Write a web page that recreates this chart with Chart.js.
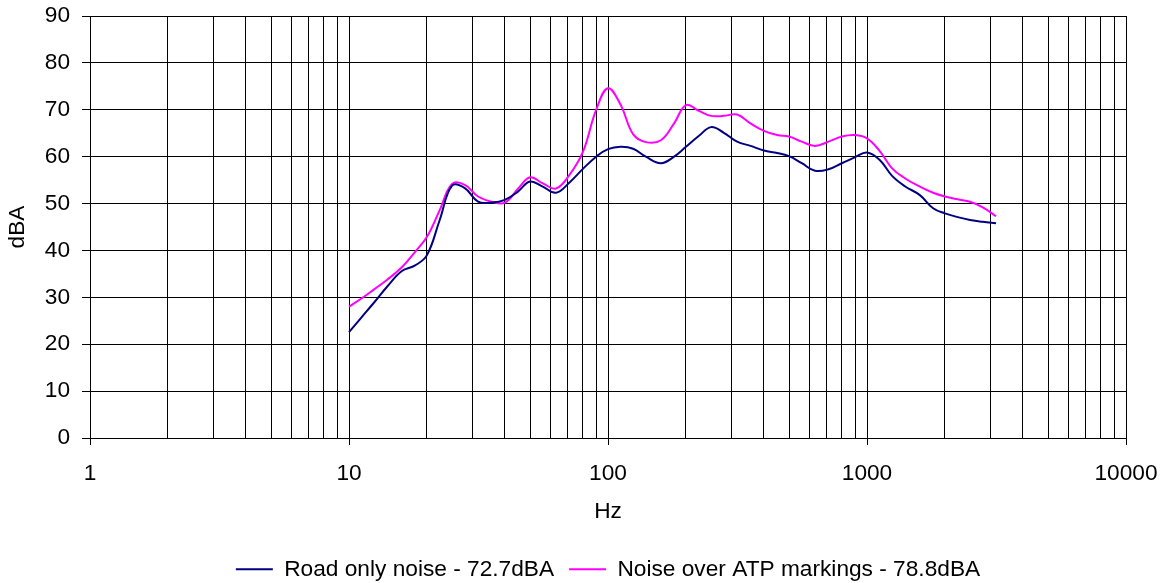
<!DOCTYPE html>
<html lang="en">
<head>
  <meta charset="UTF-8" />
  <title>Road noise spectrum</title>
  <script src="https://cdn.jsdelivr.net/npm/chart.js"></script>
  <style>
    html, body { margin: 0; padding: 0; background: #fff; }
    canvas { display: block; }
  </style>
</head>
<body>
<canvas id="noiseChart" width="1167" height="583"></canvas>

<script>
  // 1/6-octave band centres (Hz)
  const freqs = [10, 11.2, 12.5, 14, 16, 18, 20, 22.4, 25, 28, 31.5, 35.5, 40, 45, 50, 56, 63, 71, 80, 90,
    100, 112, 125, 140, 160, 180, 200, 224, 250, 280, 315, 355, 400, 450, 500, 560, 630, 710, 800, 900,
    1000, 1120, 1250, 1400, 1600, 1800, 2000, 2240, 2500, 2800, 3150];

  const roadOnly = [22.6, 25.8, 28.9, 32.2, 35.6, 36.8, 39, 46.5, 53.8, 53.3, 50.4, 50.2, 50.8, 52.6, 54.7, 53.6, 52.3, 54.5, 57.4, 60,
    61.6, 62.1, 61.7, 60, 58.6, 60, 62.1, 64.4, 66.3, 65.1, 63.2, 62.3, 61.3, 60.8, 60.1, 58.6, 57, 57.3, 58.6, 59.9,
    60.9, 59.3, 55.9, 53.7, 51.8, 49, 47.9, 47.1, 46.5, 46.1, 45.8];

  const overAtp = [28, 29.8, 31.7, 33.7, 36.4, 39.7, 42.9, 48.6, 54.2, 54, 51.5, 50.4, 50.2, 53.2, 55.6, 54.3, 53.2, 56.1, 61, 70,
    74.6, 71, 64.8, 63.1, 63.5, 67.1, 71, 69.8, 68.7, 68.7, 69, 67.1, 65.5, 64.6, 64.3, 63.2, 62.3, 63.2, 64.3, 64.6,
    63.9, 61.2, 57.5, 55.4, 53.6, 52.3, 51.5, 50.9, 50.4, 49.2, 47.3];

  const seriesNames = ["Road only noise - 72.7dBA", "Noise over ATP markings - 78.8dBA"];
  const decades = [1, 10, 100, 1000, 10000];

  Chart.defaults.font.family = '"Liberation Sans", Arial, sans-serif';
  Chart.defaults.font.size = 22.7;
  Chart.defaults.color = "#000";

  const toPoints = vals => freqs.map((f, i) => ({ x: f, y: vals[i] }));

  const ctx = document.getElementById("noiseChart").getContext("2d");
  new Chart(ctx, {
    type: "line",
    data: {
      datasets: [
        { label: seriesNames[0], data: toPoints(roadOnly), borderColor: "#000080", backgroundColor: "#000080",
          borderWidth: 2, pointRadius: 0, pointStyle: "line", tension: 0.4 },
        { label: seriesNames[1], data: toPoints(overAtp), borderColor: "#ff00ff", backgroundColor: "#ff00ff",
          borderWidth: 2, pointRadius: 0, pointStyle: "line", tension: 0.4 }
      ]
    },
    options: {
      responsive: false,
      animation: false,
      layout: { padding: { top: 16, right: 41, left: 0, bottom: 0 } },
      plugins: {
        tooltip: { enabled: false },
        legend: {
          position: "bottom",
          fullSize: false,
          maxHeight: 40,
          labels: { usePointStyle: true, pointStyle: "line", pointStyleWidth: 37, padding: 15, color: "#000" }
        }
      },
      scales: {
        x: {
          type: "logarithmic",
          min: 1,
          max: 10000,
          afterBuildTicks: scale => {
            const t = [];
            decades.slice(0, -1).forEach(d => { for (let m = 1; m < 10; m++) t.push({ value: m * d }); });
            t.push({ value: decades[decades.length - 1] });
            scale.ticks = t;
          },
          afterFit: scale => {
            scale.height = 105;
            scale.paddingLeft = 0;
            scale.paddingRight = 0;
          },
          ticks: {
            autoSkip: false, maxRotation: 0, padding: 15,
            callback: v => decades.includes(v) ? String(v) : ""
          },
          grid: {
            color: "#000", lineWidth: 1, tickLength: 7,
            tickColor: c => (c.tick && decades.includes(c.tick.value)) ? "#000" : "rgba(0,0,0,0)"
          },
          border: { color: "#000" },
          title: { display: true, text: "Hz", padding: { top: 0, bottom: 18 } }
        },
        y: {
          min: 0,
          max: 90,
          afterFit: scale => {
            scale.width = 90;
            scale.paddingTop = 0;
            scale.paddingBottom = 0;
          },
          ticks: { stepSize: 10, padding: 12 },
          grid: { color: "#000", lineWidth: 1, tickLength: 8 },
          border: { color: "#000" },
          title: { display: true, text: "dBA", padding: { top: 4, bottom: 0 } }
        }
      }
    }
  });
</script>
</body>
</html>
